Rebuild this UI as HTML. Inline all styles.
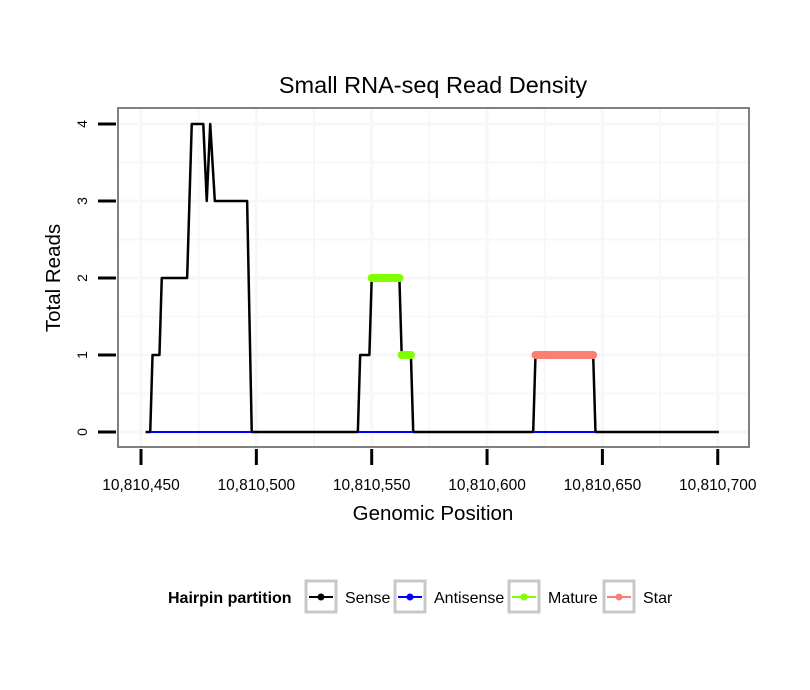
<!DOCTYPE html>
<html><head><meta charset="utf-8"><style>
body{margin:0;background:#fff;}
svg{display:block;font-family:"Liberation Sans",sans-serif;}
</style></head><body>
<svg id="chart" width="810" height="690">
<rect x="0" y="0" width="810" height="690" fill="#fff"/>
<text x="433" y="93" text-anchor="middle" font-size="23.5">Small RNA-seq Read Density</text>
<g id="grid"></g>
<g id="marks"></g>
<rect x="118" y="108" width="631" height="339" fill="none" stroke="#808080" stroke-width="2"/>
<g id="axes"></g>
<text x="433" y="520" text-anchor="middle" font-size="20.5">Genomic Position</text>
<text transform="translate(60,278) rotate(-90)" text-anchor="middle" font-size="20.5">Total Reads</text>
<g>
<text x="168" y="603" font-size="16" font-weight="bold">Hairpin partition</text>
<g>
<rect x="306" y="581" width="30" height="31" fill="#fff" stroke="#c8c8c8" stroke-width="3"/>
<line x1="309" y1="597" x2="333" y2="597" stroke="#000" stroke-width="2"/><circle cx="321" cy="597" r="3.5" fill="#000"/>
<text x="345" y="603" font-size="16">Sense</text></g>
<g>
<rect x="395" y="581" width="30" height="31" fill="#fff" stroke="#c8c8c8" stroke-width="3"/>
<line x1="398" y1="597" x2="422" y2="597" stroke="#0000ff" stroke-width="2"/><circle cx="410" cy="597" r="3.5" fill="#0000ff"/>
<text x="434" y="603" font-size="16">Antisense</text></g>
<g>
<rect x="509" y="581" width="30" height="31" fill="#fff" stroke="#c8c8c8" stroke-width="3"/>
<line x1="512" y1="597" x2="536" y2="597" stroke="#7fff00" stroke-width="2"/><circle cx="524" cy="597" r="3.5" fill="#7fff00"/>
<text x="548" y="603" font-size="16">Mature</text></g>
<g>
<rect x="604" y="581" width="30" height="31" fill="#fff" stroke="#c8c8c8" stroke-width="3"/>
<line x1="607" y1="597" x2="631" y2="597" stroke="#fa8072" stroke-width="2"/><circle cx="619" cy="597" r="3.5" fill="#fa8072"/>
<text x="643" y="603" font-size="16">Star</text></g>
</g>
</svg>
<script>
const xTicks = [10810450, 10810500, 10810550, 10810600, 10810650, 10810700];
const xTickLabels = ["10,810,450","10,810,500","10,810,550","10,810,600","10,810,650","10,810,700"];
const yTicks = [0, 1, 2, 3, 4];
const sensePos = [452,454,455,458,459,470,472,477,478.5,480,482,496,498,544,545,549,550,562,563,567,568,620,621,646,647,700.5];
const senseVal = [0,0,1,1,2,2,4,4,3,4,3,3,0,0,1,1,2,2,1,1,0,0,1,1,0,0];
const antiStart = [454, 544, 620];
const antiEnd = [498, 568, 647];
const matureStart = [550, 563];
const matureEnd = [562, 567];
const matureVal = [2, 1];
const starStart = [621];
const starEnd = [646];
const starVal = [1];

const B = 10810000;
function sx(v){ return 141 + ((v >= B ? v - B : v) - 450) * 2.307; }
function sy(v){ return 432 - v * 77; }
const NS = "http://www.w3.org/2000/svg";
function mk(tag, attrs, parent){ const e = document.createElementNS(NS, tag); for (const k in attrs) e.setAttribute(k, attrs[k]); parent.appendChild(e); return e; }
const grid = document.getElementById('grid'), marks = document.getElementById('marks'), axes = document.getElementById('axes');
mk('rect', {x:118, y:108, width:631, height:339, fill:'#fff'}, grid);
for (let i = 0; i < xTicks.length; i++) {
  for (const v of [xTicks[i], xTicks[i] + 25]) {
    const x = sx(v); if (x > 748) continue;
    const l = mk('line', {x1:x, x2:x, y1:109, y2:446, stroke:'#f7f7f7', 'stroke-width': v === xTicks[i] ? 3 : 2}, grid);
    
    
  }
  const t = mk('line', {x1:sx(xTicks[i]), x2:sx(xTicks[i]), y1:449, y2:465, stroke:'#000', 'stroke-width':3}, axes);
  
  
  const tx = mk('text', {x:sx(xTicks[i]), y:490, 'text-anchor':'middle', 'font-size':15.5}, axes);
  tx.textContent = xTickLabels[i];
  
  
}
for (const v of yTicks) {
  for (const w of [v, v + 0.5]) {
    const y = sy(w); if (y < 110) continue;
    const l = mk('line', {x1:119, x2:748, y1:y, y2:y, stroke:'#f7f7f7', 'stroke-width': w === v ? 3 : 2}, grid);
    
    
  }
  const t = mk('line', {x1:98, x2:116, y1:sy(v), y2:sy(v), stroke:'#000', 'stroke-width':3}, axes);
  
  
  const tx = mk('text', {transform:`translate(${87},${sy(v)}) rotate(-90)`, 'text-anchor':'middle', 'font-size':14}, axes);
  tx.textContent = String(v);
  
  
}
const pts = sensePos.map((p, i) => sx(p) + ',' + sy(senseVal[i])).join(' ');
const sl = mk('polyline', {points:pts, fill:'none', stroke:'#000', 'stroke-width':2.5, 'stroke-linejoin':'round'}, marks);


for (let i = 0; i < antiStart.length; i++) {
  const l = mk('line', {x1:sx(antiStart[i]), x2:sx(antiEnd[i]), y1:sy(0), y2:sy(0), stroke:'#0000ff', 'stroke-width':2}, marks);
  
  
}
for (let i = 0; i < matureStart.length; i++) {
  const l = mk('line', {x1:sx(matureStart[i]), x2:sx(matureEnd[i]), y1:sy(matureVal[i]), y2:sy(matureVal[i]), stroke:'#7fff00', 'stroke-width':8, 'stroke-linecap':'round'}, marks);
  
  
}
for (let i = 0; i < starStart.length; i++) {
  const l = mk('line', {x1:sx(starStart[i]), x2:sx(starEnd[i]), y1:sy(starVal[i]), y2:sy(starVal[i]), stroke:'#fa8072', 'stroke-width':8, 'stroke-linecap':'round'}, marks);
  
  
}
</script>
</body></html>
